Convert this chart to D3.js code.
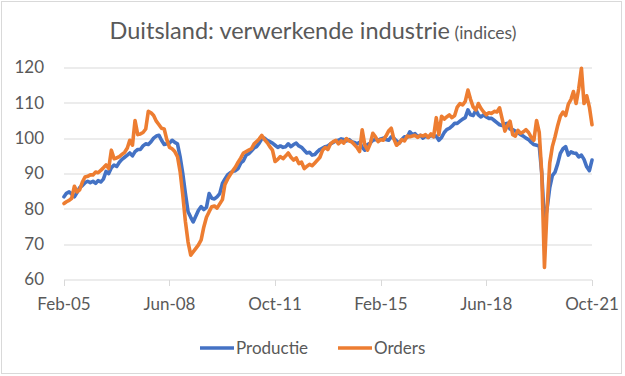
<!DOCTYPE html>
<html>
<head>
<meta charset="utf-8">
<script src="https://cdn.jsdelivr.net/npm/d3@7"></script>
<style>
  html, body { margin: 0; padding: 0; background: #fff; }
  svg { display: block; }
</style>
</head>
<body>
<div id="chart"></div>
<script>
// monthly index values, Feb 2005 .. Oct 2021 (one row per year)
const productie = [
  83.4, 84.4, 84.8, 84.2, 83.4, 84.6, 86.0, 86.6, 87.4, 87.8, 87.4,
  87.8, 87.2, 88.0, 87.6, 88.4, 90.6, 90.0, 91.6, 92.4, 92.0, 93.2, 94.0,
  94.6, 95.2, 95.8, 95.0, 96.2, 96.8, 96.8, 97.8, 98.4, 98.2, 99.0, 100.0,
  100.6, 100.8, 99.4, 98.2, 98.4, 98.6, 99.4, 98.8, 98.4, 94.8, 90.0, 84.4,
  79.2, 77.6, 76.3, 78.0, 79.6, 80.6, 79.8, 80.4, 84.3, 83.0, 82.8, 83.4,
  84.3, 87.2, 88.4, 89.6, 90.2, 90.6, 90.8, 91.4, 93.0, 93.6, 95.2, 95.6,
  96.4, 97.2, 97.6, 98.6, 99.8, 100.0, 99.4, 99.0, 98.6, 98.0, 97.4, 97.8,
  97.4, 97.6, 98.4, 97.6, 98.2, 98.6, 97.8, 97.4, 96.6, 95.8, 96.0, 95.2,
  95.4, 96.2, 96.8, 97.2, 97.6, 97.8, 98.4, 98.8, 99.2, 99.4, 99.8, 99.6,
  99.2, 99.6, 99.0, 98.8, 98.4, 98.8, 97.4, 96.6, 98.2, 98.6, 99.4, 99.6,
  99.4, 99.8, 100.0, 99.6, 99.4, 100.4, 100.0, 99.2, 98.6, 99.6, 100.4, 100.2,
  101.8, 101.0, 101.3, 100.4, 100.8, 100.0, 100.6, 100.2, 100.8, 100.4, 100.6, 99.4,
  100.2, 101.6, 102.4, 102.8, 103.4, 104.2, 104.2, 104.8, 105.4, 105.8, 108.0, 106.6,
  106.4, 108.0, 106.6, 106.0, 106.6, 106.0, 105.6, 105.6, 105.0, 104.4, 103.8, 103.6,
  104.0, 104.2, 102.6, 102.4, 102.0, 101.6, 101.0, 100.6, 100.0, 99.6, 98.8, 98.2,
  98.0, 97.8, 90.0, 76.0, 80.0, 86.0, 89.4, 90.4, 92.8, 95.7, 97.0, 97.6,
  95.2, 96.1, 95.8, 95.7, 94.7, 95.2, 94.0, 91.9, 90.8, 93.8
];
const orders = [
  81.5, 82.0, 82.4, 83.0, 86.4, 84.8, 85.4, 87.6, 89.0, 89.2, 89.6,
  89.6, 90.4, 90.2, 90.9, 91.6, 92.4, 91.4, 96.6, 94.2, 94.4, 94.8, 95.4,
  96.0, 97.2, 99.4, 98.0, 105.0, 101.0, 101.2, 101.6, 102.6, 107.6, 107.2, 106.4,
  104.8, 103.8, 102.8, 102.6, 99.6, 97.4, 97.0, 96.2, 94.8, 90.6, 84.0, 76.5,
  70.6, 66.9, 67.8, 68.8, 69.8, 71.2, 74.8, 77.6, 79.2, 80.6, 80.8, 80.2,
  81.4, 82.6, 86.8, 88.4, 89.6, 90.8, 91.8, 93.2, 94.4, 95.8, 96.2, 96.6,
  97.0, 98.4, 99.0, 99.8, 100.8, 99.6, 98.8, 97.6, 96.6, 93.4, 94.0, 94.8,
  94.2, 95.0, 95.8, 94.6, 93.8, 94.4, 92.8, 93.2, 91.4, 92.0, 92.6, 92.2,
  93.0, 93.8, 94.6, 96.6, 97.4, 96.8, 98.4, 99.0, 99.4, 98.4, 99.2, 98.6,
  99.9, 99.2, 99.0, 98.2, 97.4, 96.2, 102.4, 98.0, 96.6, 98.4, 101.4, 100.4,
  99.0, 99.6, 99.4, 100.6, 102.0, 102.8, 99.8, 98.0, 98.6, 99.6, 99.2, 100.6,
  100.4, 100.6, 100.8, 100.2, 100.8, 100.6, 101.0, 100.2, 101.2, 100.4, 105.8, 101.0,
  106.2, 105.4, 106.0, 106.6, 105.8, 106.4, 108.8, 109.8, 109.4, 110.4, 113.6, 111.0,
  108.8, 108.0, 109.8, 108.4, 107.4, 106.6, 107.2, 107.0, 107.6, 107.4, 108.6, 105.4,
  102.0, 103.6, 104.8, 101.0, 100.6, 102.2, 101.4, 101.8, 102.4, 101.6, 100.2, 99.4,
  105.0, 101.6, 90.0, 63.4, 80.0, 93.0, 97.6, 100.4, 103.6, 106.2, 107.4, 106.4,
  109.6, 111.0, 113.2, 109.8, 114.0, 119.8, 109.8, 112.0, 108.8, 103.8
];
const xTickLabels = ['Feb-05', 'Jun-08', 'Oct-11', 'Feb-15', 'Jun-18', 'Oct-21'];
const yTicks = [60, 70, 80, 90, 100, 110, 120];
const seriesNames = ['Productie', 'Orders'];
const colors = ['#4472C4', '#ED7D31'];

const FONT = 'Lato, "Open Sans", sans-serif';
const parseLabel = d3.timeParse('%b-%y');
const start = new Date(2005, 1, 1);
const months = d3.timeMonth.range(start, d3.timeMonth.offset(start, productie.length));

const width = 625, height = 376;
const margin = { top: 67.5, right: 33, bottom: 96.5, left: 64 };
const innerWidth = width - margin.left - margin.right;
const innerHeight = height - margin.top - margin.bottom;

const svg = d3.select('#chart').append('svg')
  .attr('width', width).attr('height', height).attr('font-family', FONT);
svg.append('rect').attr('x', 1.5).attr('y', 1.5).attr('width', 620).attr('height', 372)
  .attr('fill', 'none').attr('stroke', '#d9d9d9');

// title (two parts, second one smaller)
const title = svg.append('text').attr('x', 313).attr('y', 33).attr('dy', '0.35em')
  .attr('text-anchor', 'middle').attr('fill', '#595959');
title.append('tspan').attr('font-size', 23.5).text('Duitsland: verwerkende industrie');
title.append('tspan').attr('font-size', 17.5).text(' (indices)');

const g = svg.append('g').attr('transform', `translate(${margin.left},${margin.top})`);
const x = d3.scaleTime().domain(d3.extent(months)).range([0, innerWidth]);
const y = d3.scaleLinear().domain([60, 120]).range([innerHeight, 0]);

// gridlines
g.append('g').selectAll('line').data(yTicks.filter((d) => d > 60)).join('line')
  .attr('x1', 0).attr('x2', innerWidth)
  .attr('y1', (d) => Math.round(y(d)) + 0.5).attr('y2', (d) => Math.round(y(d)) + 0.5)
  .attr('stroke', '#d9d9d9').attr('stroke-width', 1);

// y axis labels
g.append('g').selectAll('text').data(yTicks).join('text')
  .attr('x', -20).attr('y', (d) => y(d)).attr('dy', '0.35em')
  .attr('text-anchor', 'end').attr('font-size', 17)
  .attr('fill', '#595959').text((d) => d);

// x axis
const xDates = xTickLabels.map(parseLabel);
const xAxis = g.append('g').attr('transform', `translate(0,${Math.round(innerHeight) + 0.5})`);
xAxis.append('line').attr('x1', 0).attr('x2', innerWidth).attr('stroke', '#d9d9d9');
xAxis.selectAll('line.tick').data(xDates).join('line').attr('class', 'tick')
  .attr('x1', (d) => Math.round(x(d)) + 0.5).attr('x2', (d) => Math.round(x(d)) + 0.5)
  .attr('y1', 0).attr('y2', 6).attr('stroke', '#d9d9d9');
xAxis.selectAll('text').data(xTickLabels).join('text')
  .attr('x', (d) => x(parseLabel(d))).attr('y', 24).attr('dy', '0.35em')
  .attr('text-anchor', 'middle').attr('font-size', 17)
  .attr('fill', '#595959').text((d) => d);

// lines
const series = [productie, orders];
series.forEach((values, i) => {
  g.append('path')
    .datum(values)
    .attr('fill', 'none')
    .attr('stroke', colors[i])
    .attr('stroke-width', 3.6)
    .attr('stroke-linejoin', 'round')
    .attr('stroke-linecap', 'round')
    .attr('d', d3.line().x((d, j) => x(months[j])).y((d) => y(d)));
});

// legend
const legendX = [200, 338];
const legend = svg.append('g');
seriesNames.forEach((name, i) => {
  legend.append('line').attr('x1', legendX[i]).attr('x2', legendX[i] + 34)
    .attr('y1', 348).attr('y2', 348).attr('stroke', colors[i]).attr('stroke-width', 3.6);
  legend.append('text').attr('x', legendX[i] + 36).attr('y', 348).attr('dy', '0.35em')
    .attr('font-size', 17).attr('fill', '#595959').text(name);
});
</script>
</body>
</html>
